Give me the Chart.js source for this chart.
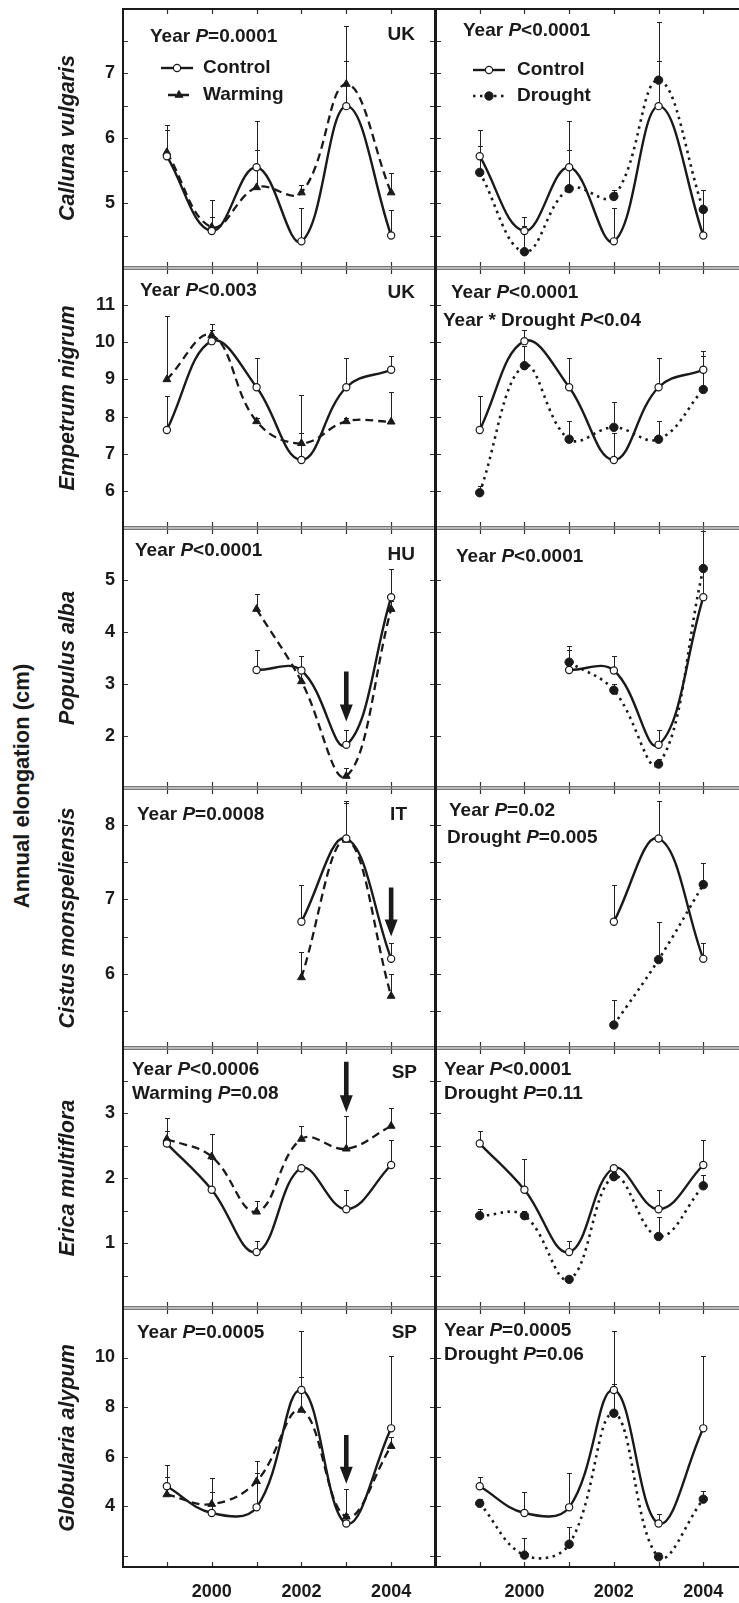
<!DOCTYPE html>
<html>
<head>
<meta charset="utf-8">
<script src="https://cdn.jsdelivr.net/npm/chart.js@4.4.0/dist/chart.umd.min.js"></script>
<style>
  html, body { margin: 0; padding: 0; background: #fff; overflow: hidden; }
  #fig { position: relative; width: 739px; height: 1603px; overflow: hidden; background: #fff; }
  #fig canvas { position: absolute; }
  #ylab {
    position: absolute; left: 22px; top: 786px;
    transform: translate(-50%, -50%) rotate(-90deg);
    font: bold 22px 'Liberation Sans', Arial, sans-serif;
    white-space: nowrap; color: #1a1a1a;
  }
</style>
</head>
<body>
<div id="fig"><div id="ylab">Annual elongation (cm)</div></div>
<script>
// ---- data ----
const years = [1999, 2000, 2001, 2002, 2003, 2004];
const xLabels = [2000, 2002, 2004];

const callunaControl    = [5.72, 4.57, 5.55, 4.41, 6.49, 4.50];
const callunaControlErr = [6.12, 4.78, 6.26, 4.92, 7.18, 4.89];
const callunaWarming    = [5.78, 4.63, 5.24, 5.16, 6.83, 5.16];
const callunaWarmingErr = [6.20, 5.05, 5.82, 5.27, 7.72, 5.46];
const callunaDrought    = [5.47, 4.25, 5.22, 5.10, 6.89, 4.90];
const callunaDroughtErr = [5.87, 4.65, 5.81, 5.20, 7.78, 5.20];
const callunaTicks  = [4.5, 5, 5.5, 6, 6.5, 7, 7.5];
const callunaLabels = [5, 6, 7];

const empControl    = [7.64, 10.03, 8.79, 6.83, 8.79, 9.26];
const empControlErr = [8.55, 10.33, 9.59, 7.55, 9.59, 9.64];
const empWarming    = [9.00, 10.19, 7.87, 7.28, 7.87, 7.86];
const empWarmingErr = [10.70, 10.50, 7.97, 8.58, 7.97, 8.67];
const empDrought    = [5.95, 9.37, 7.39, 7.71, 7.39, 8.73];
const empDroughtErr = [6.13, 9.90, 7.87, 8.40, 7.87, 9.77];
const empTicks  = [6, 7, 8, 9, 10, 11];
const empLabels = [6, 7, 8, 9, 10, 11];

const popControl    = [null, null, 3.27, 3.26, 1.83, 4.67];
const popControlErr = [null, null, 3.66, 3.53, 2.11, 5.22];
const popWarming    = [null, null, 4.44, 3.05, 1.23, 4.44];
const popWarmingErr = [null, null, 4.74, 3.30, 1.38, 4.60];
const popDrought    = [null, null, 3.42, 2.88, 1.46, 5.22];
const popDroughtErr = [null, null, 3.74, 3.00, 1.55, 5.94];
const popTicks  = [2, 3, 4, 5];
const popLabels = [2, 3, 4, 5];

const cisControl    = [null, null, null, 6.70, 7.82, 6.20];
const cisControlErr = [null, null, null, 7.20, 8.33, 6.42];
const cisWarming    = [null, null, null, 5.95, 7.80, 5.70];
const cisWarmingErr = [null, null, null, 6.29, 8.30, 6.00];
const cisDrought    = [null, null, null, 5.31, 6.19, 7.20];
const cisDroughtErr = [null, null, null, 5.64, 6.69, 7.49];
const cisTicks  = [5.5, 6, 6.5, 7, 7.5, 8];
const cisLabels = [6, 7, 8];

const ericaControl    = [2.53, 1.82, 0.86, 2.15, 1.52, 2.20];
const ericaControlErr = [2.73, 2.30, 1.03, 2.20, 1.82, 2.58];
const ericaWarming    = [2.60, 2.33, 1.48, 2.60, 2.45, 2.80];
const ericaWarmingErr = [2.92, 2.67, 1.64, 2.80, 2.95, 3.07];
const ericaDrought    = [1.42, 1.42, 0.44, 2.02, 1.10, 1.88];
const ericaDroughtErr = [1.53, 1.50, 0.50, 2.10, 1.40, 2.05];
const ericaTicks  = [0.5, 1, 1.5, 2, 2.5, 3, 3.5];
const ericaLabels = [1, 2, 3];

const globControl    = [4.80, 3.72, 3.95, 8.69, 3.30, 7.14];
const globControlErr = [5.17, 4.57, 5.34, 11.07, 3.70, 10.07];
const globWarming    = [4.47, 4.08, 5.00, 7.88, 3.57, 6.42];
const globWarmingErr = [5.67, 5.14, 5.81, 9.21, 4.71, 6.81];
const globDrought    = [4.11, 2.02, 2.46, 7.75, 1.95, 4.28];
const globDroughtErr = [4.30, 2.73, 3.17, 8.94, 2.10, 4.60];
const globTicks  = [2, 4, 6, 8, 10];
const globLabels = [4, 6, 8, 10];

// ---- panel layout ----
const FAM = "'Liberation Sans', Arial, Helvetica, sans-serif";
const INK = '#1a1a1a';
const NOTE_SIZE = 19;
Chart.defaults.font.family = FAM;
Chart.defaults.color = INK;

const rows = [
  { species: 'Calluna vulgaris', min: 4, max: 8, ticks: callunaTicks, labels: callunaLabels,
    c: callunaControl, ce: callunaControlErr, w: callunaWarming, we: callunaWarmingErr, d: callunaDrought, de: callunaDroughtErr,
    notesL: [{ t: 'Year _P_=0.0001', dx: 28, dy: 29 }, { t: 'UK', r: 21, dy: 27 }],
    notesR: [{ t: 'Year _P_<0.0001', dx: 28, dy: 23 }],
    legendL: { x0: 39, x1: 71, tx: 81, dy: [60, 87], x0b: 46, x1b: 68 },
    legendR: { x0: 38, x1: 70, tx: 82, dy: [62, 88], x0b: 38, x1b: 70 } },
  { species: 'Empetrum nigrum', min: 5, max: 12, ticks: empTicks, labels: empLabels,
    c: empControl, ce: empControlErr, w: empWarming, we: empWarmingErr, d: empDrought, de: empDroughtErr,
    notesL: [{ t: 'Year _P_<0.003', dx: 18, dy: 23 }, { t: 'UK', r: 21, dy: 25 }],
    notesR: [{ t: 'Year _P_<0.0001', dx: 16, dy: 25 }, { t: 'Year * Drought _P_<0.04', dx: 8, dy: 53 }] },
  { species: 'Populus alba', min: 1, max: 6, ticks: popTicks, labels: popLabels,
    c: popControl, ce: popControlErr, w: popWarming, we: popWarmingErr, d: popDrought, de: popDroughtErr,
    notesL: [{ t: 'Year _P_<0.0001', dx: 13, dy: 23 }, { t: 'HU', r: 21, dy: 27 }],
    notesR: [{ t: 'Year _P_<0.0001', dx: 21, dy: 29 }],
    arrows: [{ x: 2003, from: 3.24, to: 2.28 }] },
  { species: 'Cistus monspeliensis', min: 5, max: 8.5, ticks: cisTicks, labels: cisLabels,
    c: cisControl, ce: cisControlErr, w: cisWarming, we: cisWarmingErr, d: cisDrought, de: cisDroughtErr,
    notesL: [{ t: 'Year _P_=0.0008', dx: 15, dy: 27 }, { t: 'IT', r: 29, dy: 27 }],
    notesR: [{ t: 'Year _P_=0.02', dx: 14, dy: 23 }, { t: 'Drought _P_=0.005', dx: 12, dy: 50 }],
    arrows: [{ x: 2004, from: 7.16, to: 6.5 }] },
  { species: 'Erica multiflora', min: 0, max: 4, ticks: ericaTicks, labels: ericaLabels,
    c: ericaControl, ce: ericaControlErr, w: ericaWarming, we: ericaWarmingErr, d: ericaDrought, de: ericaDroughtErr,
    notesL: [{ t: 'Year _P_<0.0006', dx: 10, dy: 22 }, { t: 'Warming _P_=0.08', dx: 10, dy: 46 }, { t: 'SP', r: 19, dy: 25 }],
    notesR: [{ t: 'Year _P_<0.0001', dx: 9, dy: 22 }, { t: 'Drought _P_=0.11', dx: 9, dy: 46 }],
    arrows: [{ x: 2003, from: 3.79, to: 3.01 }] },
  { species: 'Globularia alypum', min: 1.5, max: 12, ticks: globTicks, labels: globLabels,
    c: globControl, ce: globControlErr, w: globWarming, we: globWarmingErr, d: globDrought, de: globDroughtErr,
    notesL: [{ t: 'Year _P_=0.0005', dx: 15, dy: 25 }, { t: 'SP', r: 19, dy: 25 }],
    notesR: [{ t: 'Year _P_=0.0005', dx: 9, dy: 23 }, { t: 'Drought _P_=0.06', dx: 9, dy: 47 }],
    arrows: [{ x: 2003, from: 6.87, to: 4.9 }] }
];

const styleControl = { borderColor: INK, borderWidth: 2.4, pointStyle: 'circle', pointRadius: 3.6,
  pointBackgroundColor: '#fff', pointBorderColor: INK, pointBorderWidth: 1.2 };
const styleWarming = { borderColor: INK, borderWidth: 2.3, borderDash: [8, 5], pointStyle: 'triangle',
  pointRadius: 4.5, pointBackgroundColor: INK, pointBorderColor: INK, pointBorderWidth: 1 };
const styleDrought = { borderColor: INK, borderWidth: 2.6, borderDash: [2.5, 4.5], pointStyle: 'circle',
  pointRadius: 4.2, pointBackgroundColor: INK, pointBorderColor: INK, pointBorderWidth: 1 };

function pts(vals) {
  return years.map((x, i) => ({ x: x, y: vals[i] }));
}

function richText(ctx, str, x, y, size, rightAlign) {
  const parts = str.split('_');
  const fontOf = i => (i % 2 ? 'italic ' : '') + 'bold ' + size + 'px ' + FAM;
  let w = 0;
  parts.forEach((p, i) => { ctx.font = fontOf(i); w += ctx.measureText(p).width; });
  let cx = rightAlign ? x - w : x;
  parts.forEach((p, i) => {
    ctx.font = fontOf(i);
    ctx.fillText(p, cx, y);
    cx += ctx.measureText(p).width;
  });
}

function marker(ctx, st, x, y) {
  ctx.save();
  ctx.setLineDash([]);
  ctx.fillStyle = st.pointBackgroundColor;
  ctx.strokeStyle = st.pointBorderColor;
  ctx.lineWidth = st.pointBorderWidth;
  ctx.beginPath();
  if (st.pointStyle === 'triangle') {
    const r = st.pointRadius;
    ctx.moveTo(x, y - r);
    ctx.lineTo(x + r * 0.87, y + r * 0.5);
    ctx.lineTo(x - r * 0.87, y + r * 0.5);
    ctx.closePath();
  } else {
    ctx.arc(x, y, st.pointRadius, 0, Math.PI * 2);
  }
  ctx.fill();
  ctx.stroke();
  ctx.restore();
}

function overlay(spec) {
  return {
    id: 'overlay',
    beforeDatasetsDraw(chart) {
      // error bars (upper only)
      const { ctx, scales: { x, y } } = chart;
      ctx.save();
      ctx.strokeStyle = '#222';
      ctx.lineWidth = 1;
      chart.data.datasets.forEach(ds => {
        if (!ds.errTop) return;
        ds.errTop.forEach((e, i) => {
          const v = ds.data[i].y;
          if (e == null || v == null) return;
          const px = Math.round(x.getPixelForValue(ds.data[i].x)) + 0.5;
          const p0 = y.getPixelForValue(v), p1 = Math.round(y.getPixelForValue(e)) + 0.5;
          ctx.beginPath();
          ctx.moveTo(px, p0); ctx.lineTo(px, p1);
          ctx.moveTo(px - 2.5, p1); ctx.lineTo(px + 2.5, p1);
          ctx.stroke();
        });
      });
      ctx.restore();
    },
    afterDraw(chart) {
      const { ctx, chartArea: a, scales: { x, y } } = chart;
      ctx.save();
      // inward tick marks
      ctx.strokeStyle = '#333';
      ctx.lineWidth = 1.2;
      ctx.beginPath();
      spec.ticks.forEach(v => {
        const py = Math.round(y.getPixelForValue(v)) + 0.5;
        ctx.moveTo(a.left, py); ctx.lineTo(a.left + 6, py);
        ctx.moveTo(a.right - 6, py); ctx.lineTo(a.right, py);
      });
      years.forEach(v => {
        const px = Math.round(x.getPixelForValue(v)) + 0.5;
        ctx.moveTo(px, a.top); ctx.lineTo(px, a.top + 6);
        ctx.moveTo(px, a.bottom - 6); ctx.lineTo(px, a.bottom);
      });
      ctx.stroke();
      // frame
      ctx.strokeStyle = '#777';
      ctx.lineWidth = 1.5;
      ctx.beginPath();
      ctx.moveTo(a.left, a.top + 1.2); ctx.lineTo(a.right, a.top + 1.2);
      ctx.moveTo(a.left, a.bottom - 1.2); ctx.lineTo(a.right, a.bottom - 1.2);
      ctx.stroke();
      ctx.strokeStyle = INK;
      ctx.lineWidth = 2;
      ctx.beginPath();
      ctx.moveTo(a.left + 1, a.top); ctx.lineTo(a.left + 1, a.bottom);
      ctx.moveTo(a.right - 1, a.top); ctx.lineTo(a.right - 1, a.bottom);
      if (spec.first) { ctx.moveTo(a.left, a.top + 1); ctx.lineTo(a.right, a.top + 1); }
      if (spec.last) { ctx.moveTo(a.left, a.bottom - 1); ctx.lineTo(a.right, a.bottom - 1); }
      ctx.stroke();
      // arrows
      ctx.fillStyle = INK;
      (spec.arrows || []).forEach(ar => {
        const px = x.getPixelForValue(ar.x), p0 = y.getPixelForValue(ar.from), p1 = y.getPixelForValue(ar.to);
        const hl = 17, hw = 6.5, sw = 2.3;
        ctx.beginPath();
        ctx.moveTo(px - sw, p0); ctx.lineTo(px + sw, p0);
        ctx.lineTo(px + sw, p1 - hl); ctx.lineTo(px + hw, p1 - hl);
        ctx.lineTo(px, p1); ctx.lineTo(px - hw, p1 - hl);
        ctx.lineTo(px - sw, p1 - hl); ctx.closePath();
        ctx.fill();
      });
      // texts
      ctx.textBaseline = 'middle';
      ctx.textAlign = 'left';
      ctx.fillStyle = INK;
      spec.notes.forEach(n => {
        if (n.r != null) richText(ctx, n.t, a.right - n.r, a.top + n.dy, NOTE_SIZE, true);
        else richText(ctx, n.t, a.left + n.dx, a.top + n.dy, NOTE_SIZE, false);
      });
      // legend
      if (spec.legend) {
        const L = spec.legend;
        chart.data.datasets.forEach((ds, i) => {
          const yy = a.top + L.dy[i];
          const x0 = a.left + (i ? L.x0b : L.x0), x1 = a.left + (i ? L.x1b : L.x1);
          ctx.save();
          ctx.strokeStyle = ds.borderColor;
          ctx.lineWidth = ds.borderWidth;
          ctx.setLineDash(ds.borderDash || []);
          ctx.beginPath(); ctx.moveTo(x0, yy); ctx.lineTo(x1, yy); ctx.stroke();
          ctx.restore();
          marker(ctx, ds, (x0 + x1) / 2, yy);
          ctx.fillStyle = INK;
          ctx.font = 'bold ' + NOTE_SIZE + 'px ' + FAM;
          ctx.fillText(ds.label, a.left + L.tx, yy);
        });
      }
      ctx.restore();
    }
  };
}

const fig = document.getElementById('fig');

rows.forEach((row, k) => {
  ['L', 'R'].forEach(side => {
    const isLeft = side === 'L';
    const last = k === rows.length - 1;
    const top = 8 + 260 * k;
    const cv = document.createElement('canvas');
    cv.width = isLeft ? 384 : 313;
    cv.height = 260 + (last ? 35 : 0);
    cv.style.left = (isLeft ? 52 : 435) + 'px';
    cv.style.top = top + 'px';
    cv.style.width = cv.width + 'px';
    cv.style.height = cv.height + 'px';
    fig.appendChild(cv);

    const control = Object.assign({ label: 'Control', data: pts(row.c), errTop: row.ce, tension: 0.4 }, styleControl);
    const other = isLeft
      ? Object.assign({ label: 'Warming', data: pts(row.w), errTop: row.we, tension: 0.4 }, styleWarming)
      : Object.assign({ label: 'Drought', data: pts(row.d), errTop: row.de, tension: 0.4 }, styleDrought);

    const spec = {
      ticks: row.ticks, first: k === 0, last: last,
      notes: isLeft ? row.notesL : row.notesR,
      arrows: isLeft ? row.arrows : null,
      legend: isLeft ? row.legendL : row.legendR
    };

    new Chart(cv, {
      type: 'line',
      data: { datasets: [control, other] },
      options: {
        responsive: false,
        animation: false,
        devicePixelRatio: 1,
        layout: { padding: 0, autoPadding: false },
        plugins: { legend: { display: false }, tooltip: { enabled: false } },
        scales: {
          x: {
            type: 'linear', min: 1998, max: 2005,
            display: last,
            position: 'bottom',
            grid: { display: false, drawTicks: false, tickLength: 0 },
            border: { display: false },
            afterBuildTicks: s => { s.ticks = years.map(v => ({ value: v })); },
            afterFit: s => {
              if (!last) return;
              s.height = 35; s.paddingLeft = 0; s.paddingRight = 0;
            },
            ticks: {
              autoSkip: false, maxRotation: 0, padding: 13,
              font: { size: 18, weight: 'bold' }, color: INK,
              callback: v => xLabels.includes(v) ? String(v) : null
            }
          },
          y: {
            type: 'linear', min: row.min, max: row.max,
            display: isLeft,
            grid: { display: false, drawTicks: false, tickLength: 0 },
            border: { display: false },
            afterBuildTicks: s => { s.ticks = row.ticks.map(v => ({ value: v })); },
            afterFit: s => {
              if (!isLeft) return;
              s.width = 70; s.paddingTop = 0; s.paddingBottom = 0;
            },
            ticks: {
              autoSkip: false, padding: 7,
              font: { size: 18, weight: 'bold' }, color: INK,
              callback: v => row.labels.includes(v) ? String(v) : null
            },
            title: {
              display: true, text: row.species, color: INK,
              padding: { top: 3, bottom: 4 },
              font: { size: 21.5, weight: 'bold', style: 'italic' }
            }
          }
        }
      },
      plugins: [overlay(spec)]
    });
  });
});
</script>
</body>
</html>
